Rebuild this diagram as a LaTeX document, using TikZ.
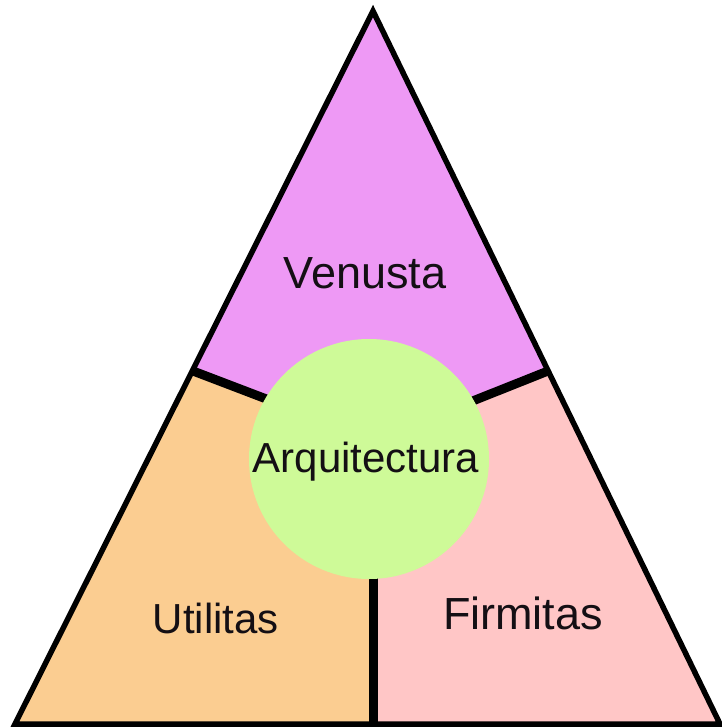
\documentclass[tikz,border=0pt]{standalone}
\usepackage{fontspec}
\setmainfont{Liberation Sans}
\definecolor{venc}{RGB}{238,153,245}
\definecolor{utic}{RGB}{251,205,145}
\definecolor{firc}{RGB}{255,198,198}
\definecolor{arqc}{RGB}{206,250,152}
\definecolor{txtc}{RGB}{20,15,20}
\begin{document}
\begin{tikzpicture}[x=1pt,y=-1pt,
  outline/.style={line width=5.5pt,line join=miter,black},
  divider/.style={line width=9pt,black},
  lbl/.style={anchor=base,inner sep=0pt,text=txtc,font=\fontsize{42}{48}\selectfont},
  biglbl/.style={lbl,font=\fontsize{45}{50}\selectfont}]
\useasboundingbox (0,0) rectangle (722,728);
\fill[white] (0,0) rectangle (722,728);
\coordinate (A) at (373,11);
\coordinate (BL) at (15,724);
\coordinate (BR) at (720,724);
\coordinate (L) at (193,371);
\coordinate (R) at (548,371);
\coordinate (M) at (373,724);
\coordinate (C) at (369,459);
\coordinate (Le) at (290,408);
\coordinate (Re) at (450,410);
\coordinate (Me) at (373,540);
% regions
\fill[venc] (A) -- (L) -- (Le) -- (C) -- (Re) -- (R) -- cycle;
\fill[utic] (L) -- (BL) -- (M) -- (Me) -- (C) -- (Le) -- cycle;
\fill[firc] (R) -- (BR) -- (M) -- (Me) -- (C) -- (Re) -- cycle;
% dividers
\draw[divider] (L) -- (Le);
\draw[divider] (R) -- (Re);
\draw[divider] (M) -- (Me);
% centre circle
\node[circle,fill=arqc,minimum size=240pt,inner sep=0pt] (arq) at (C) {};
% outline
\draw[outline] (A) -- (BL) -- (BR) -- cycle;
% labels
\node[biglbl] (ven) at (365,288) {Venusta};
\node[lbl] (arqt) at (366,472) {Arquitectura};
\node[lbl] (uti) at (216,633) {Utilitas};
\node[biglbl] (fir) at (523,629) {Firmitas};
\end{tikzpicture}
\end{document}
